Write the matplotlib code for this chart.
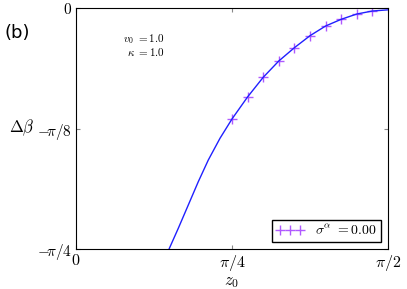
import numpy as np
import matplotlib
matplotlib.use("Agg")
import matplotlib.pyplot as plt

plt.rcParams['mathtext.fontset'] = 'cm'

# Curve (z0, delta beta)
curve_z = [0.45, 0.4682, 0.5150, 0.5654, 0.6157, 0.6661, 0.7250, 0.7854, 0.8639,
           0.9425, 1.0210, 1.0996, 1.1781, 1.2566, 1.3352, 1.4137, 1.4923, 1.5708]
curve_db = [-0.8124, -0.786, -0.7180, -0.6420, -0.5661, -0.4954, -0.4246, -0.3617,
            -0.2898, -0.2259, -0.1727, -0.1294, -0.0903, -0.0587, -0.0368, -0.0196,
            -0.0098, -0.006]

# Markers (sigma^alpha = 0.00)
mark_z = [0.7854, 0.8639, 0.9425, 1.0210, 1.0996, 1.1781, 1.2566, 1.3352, 1.4137, 1.4923]
mark_db = [-0.3617, -0.2898, -0.2259, -0.1727, -0.1294, -0.0903, -0.0587, -0.0368,
           -0.0196, -0.0098]

xticks = [0, np.pi / 4, np.pi / 2]
xticklabels = [r'$0$', r'$\pi/4$', r'$\pi/2$']
yticks = [-np.pi / 4, -np.pi / 8, 0]
yticklabels = [r'$-\!\pi/4$', r'$-\!\pi/8$', r'$0$']

fig = plt.figure(figsize=(4.07, 2.89), dpi=100)
ax = fig.add_axes([0.1867, 0.1384, 0.7666, 0.8339])

ax.plot(mark_z, mark_db, linestyle='none', marker='+', markersize=7, mew=1.0,
        color='#9b30ff', alpha=0.8, zorder=2,
        label=r'$\sigma^{\alpha}\ {=}\mathbf{0.00}$')
ax.plot(curve_z, curve_db, color='#2020ff', lw=1.0, zorder=3)

ax.set_xlim(0, np.pi / 2)
ax.set_ylim(-np.pi / 4, 0)
ax.set_xticks(xticks)
ax.set_xticklabels(xticklabels, fontsize=11.5)
ax.set_yticks(yticks)
ax.set_yticklabels(yticklabels, fontsize=11)
ax.tick_params(direction='in', top=True, right=True, length=3, color='#888888', pad=3)

ax.set_xlabel(r'$z_0$', fontsize=12, labelpad=-1)
ax.set_ylabel(r'$\Delta\beta$', fontsize=12, rotation=0)
ax.yaxis.label.set_va('center')
ax.yaxis.label.set_ha('center')
ax.yaxis.set_label_coords(-0.175, 0.505)

ax.text(0.285, 0.86, r'$v_0\ {=}\mathbf{1.0}$', transform=ax.transAxes, fontsize=8, ha='right')
ax.text(0.285, 0.80, r'$\kappa\ {=}\mathbf{1.0}$', transform=ax.transAxes, fontsize=8, ha='right')

leg = ax.legend(loc='lower right', numpoints=3, fontsize=10, fancybox=False,
                framealpha=1, edgecolor='black', handlelength=2.0,
                borderaxespad=0.5, borderpad=0.3)
leg.get_frame().set_linewidth(1.0)

fig.text(0.012, 0.87, '(b)', fontsize=13)

fig.savefig('out.png', dpi=100)
